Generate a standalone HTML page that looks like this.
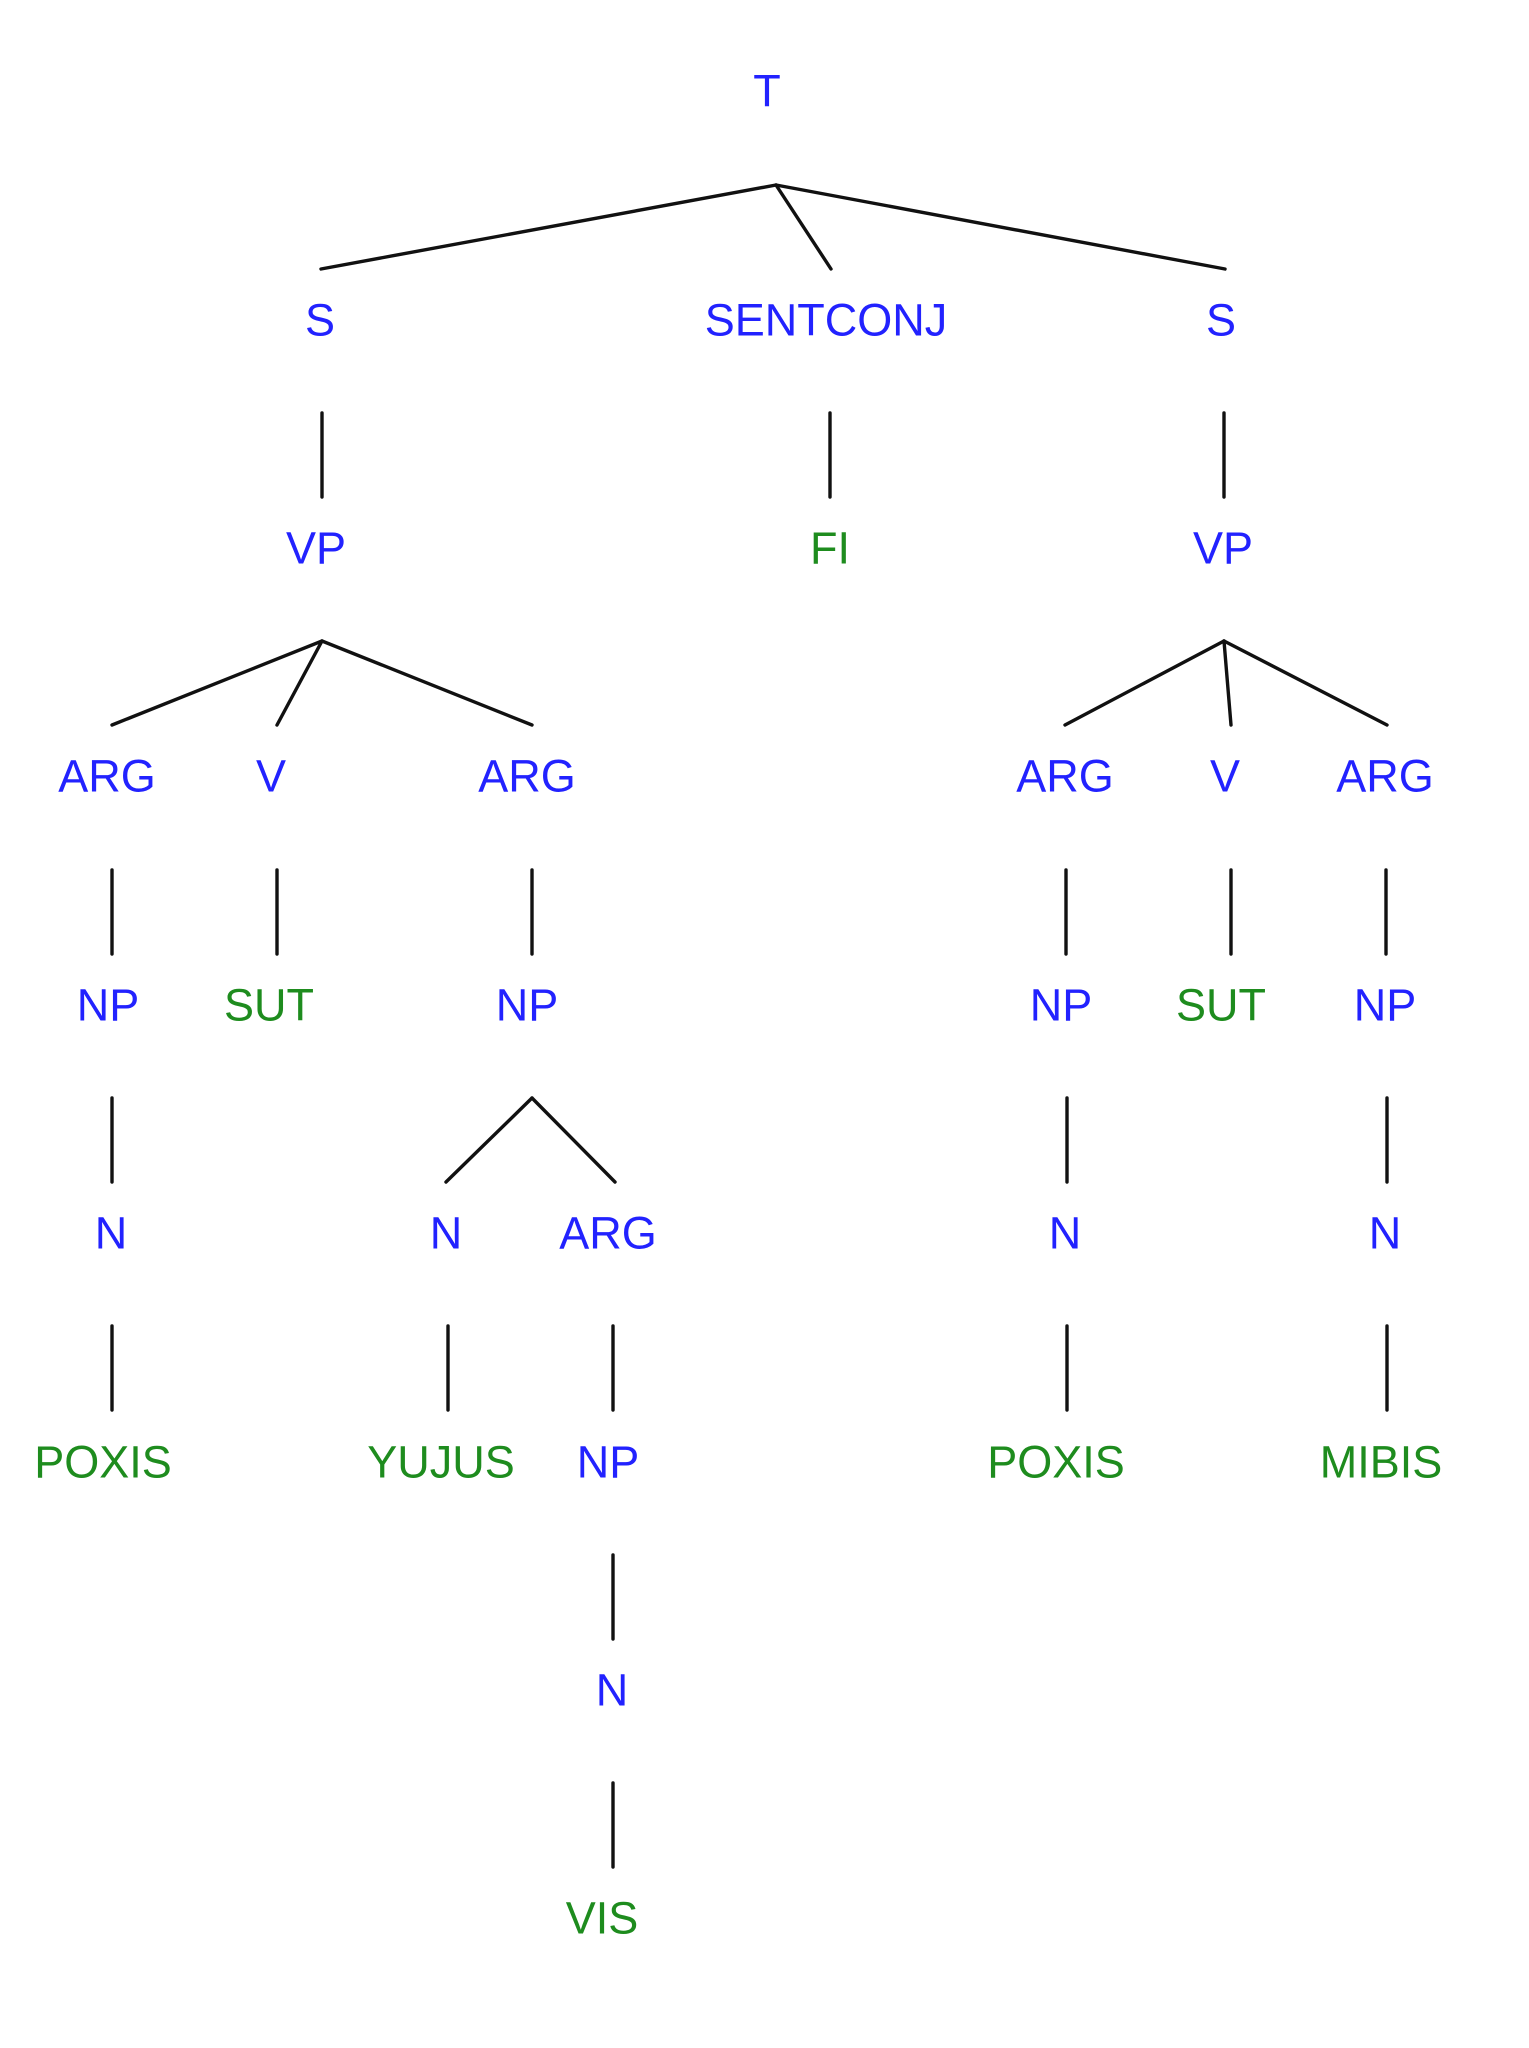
<!DOCTYPE html>
<html><head><meta charset="utf-8"><style>
html,body{margin:0;padding:0;background:#fff}
svg{display:block}
text{font-family:"Liberation Sans",sans-serif;font-size:45px;text-anchor:middle;dominant-baseline:central}
.b{fill:#2222ff}.g{fill:#1e8c1e}
line{stroke:#111;stroke-width:3.4;stroke-linecap:round}
</style></head><body>
<svg width="1529" height="2048" viewBox="0 0 1529 2048" xmlns="http://www.w3.org/2000/svg">
<text class="b" x="767" y="91">T</text>
<line x1="776" y1="185" x2="321" y2="269"/><line x1="776" y1="185" x2="831" y2="269"/><line x1="776" y1="185" x2="1225" y2="269"/>
<text class="b" x="320" y="320">S</text><text class="b" x="826" y="320">SENTCONJ</text><text class="b" x="1221" y="320">S</text>
<line x1="322" y1="413" x2="322" y2="497"/><line x1="830" y1="413" x2="830" y2="497"/><line x1="1224" y1="413" x2="1224" y2="497"/>
<text class="b" x="316" y="548">VP</text><text class="g" x="830" y="548">FI</text><text class="b" x="1223" y="548">VP</text>
<line x1="322" y1="641" x2="112" y2="725"/><line x1="322" y1="641" x2="277" y2="725"/><line x1="322" y1="641" x2="532" y2="725"/>
<line x1="1224" y1="641" x2="1065" y2="725"/><line x1="1224" y1="641" x2="1231" y2="725"/><line x1="1224" y1="641" x2="1387" y2="725"/>
<text class="b" x="107" y="776">ARG</text><text class="b" x="271" y="776">V</text><text class="b" x="527" y="776">ARG</text>
<text class="b" x="1065" y="776">ARG</text><text class="b" x="1225" y="776">V</text><text class="b" x="1385" y="776">ARG</text>
<line x1="112" y1="870" x2="112" y2="954"/><line x1="277" y1="870" x2="277" y2="954"/><line x1="532" y1="870" x2="532" y2="954"/>
<line x1="1066" y1="870" x2="1066" y2="954"/><line x1="1231" y1="870" x2="1231" y2="954"/><line x1="1386" y1="870" x2="1386" y2="954"/>
<text class="b" x="108" y="1005">NP</text><text class="g" x="269" y="1005">SUT</text><text class="b" x="527" y="1005">NP</text>
<text class="b" x="1061" y="1005">NP</text><text class="g" x="1221" y="1005">SUT</text><text class="b" x="1385" y="1005">NP</text>
<line x1="112" y1="1098" x2="112" y2="1182"/>
<line x1="532" y1="1098" x2="446" y2="1182"/><line x1="532" y1="1098" x2="615" y2="1182"/>
<line x1="1067" y1="1098" x2="1067" y2="1182"/><line x1="1387" y1="1098" x2="1387" y2="1182"/>
<text class="b" x="111" y="1233">N</text><text class="b" x="446" y="1233">N</text><text class="b" x="608" y="1233">ARG</text>
<text class="b" x="1065" y="1233">N</text><text class="b" x="1385" y="1233">N</text>
<line x1="112" y1="1326" x2="112" y2="1410"/><line x1="448" y1="1326" x2="448" y2="1410"/><line x1="613" y1="1326" x2="613" y2="1410"/>
<line x1="1067" y1="1326" x2="1067" y2="1410"/><line x1="1387" y1="1326" x2="1387" y2="1410"/>
<text class="g" x="103" y="1462">POXIS</text><text class="g" x="441" y="1462">YUJUS</text><text class="b" x="608" y="1462">NP</text>
<text class="g" x="1056" y="1462">POXIS</text><text class="g" x="1381" y="1462">MIBIS</text>
<line x1="613" y1="1555" x2="613" y2="1639"/>
<text class="b" x="612" y="1690">N</text>
<line x1="613" y1="1783" x2="613" y2="1867"/>
<text class="g" x="602" y="1918">VIS</text>
</svg>
</body></html>
